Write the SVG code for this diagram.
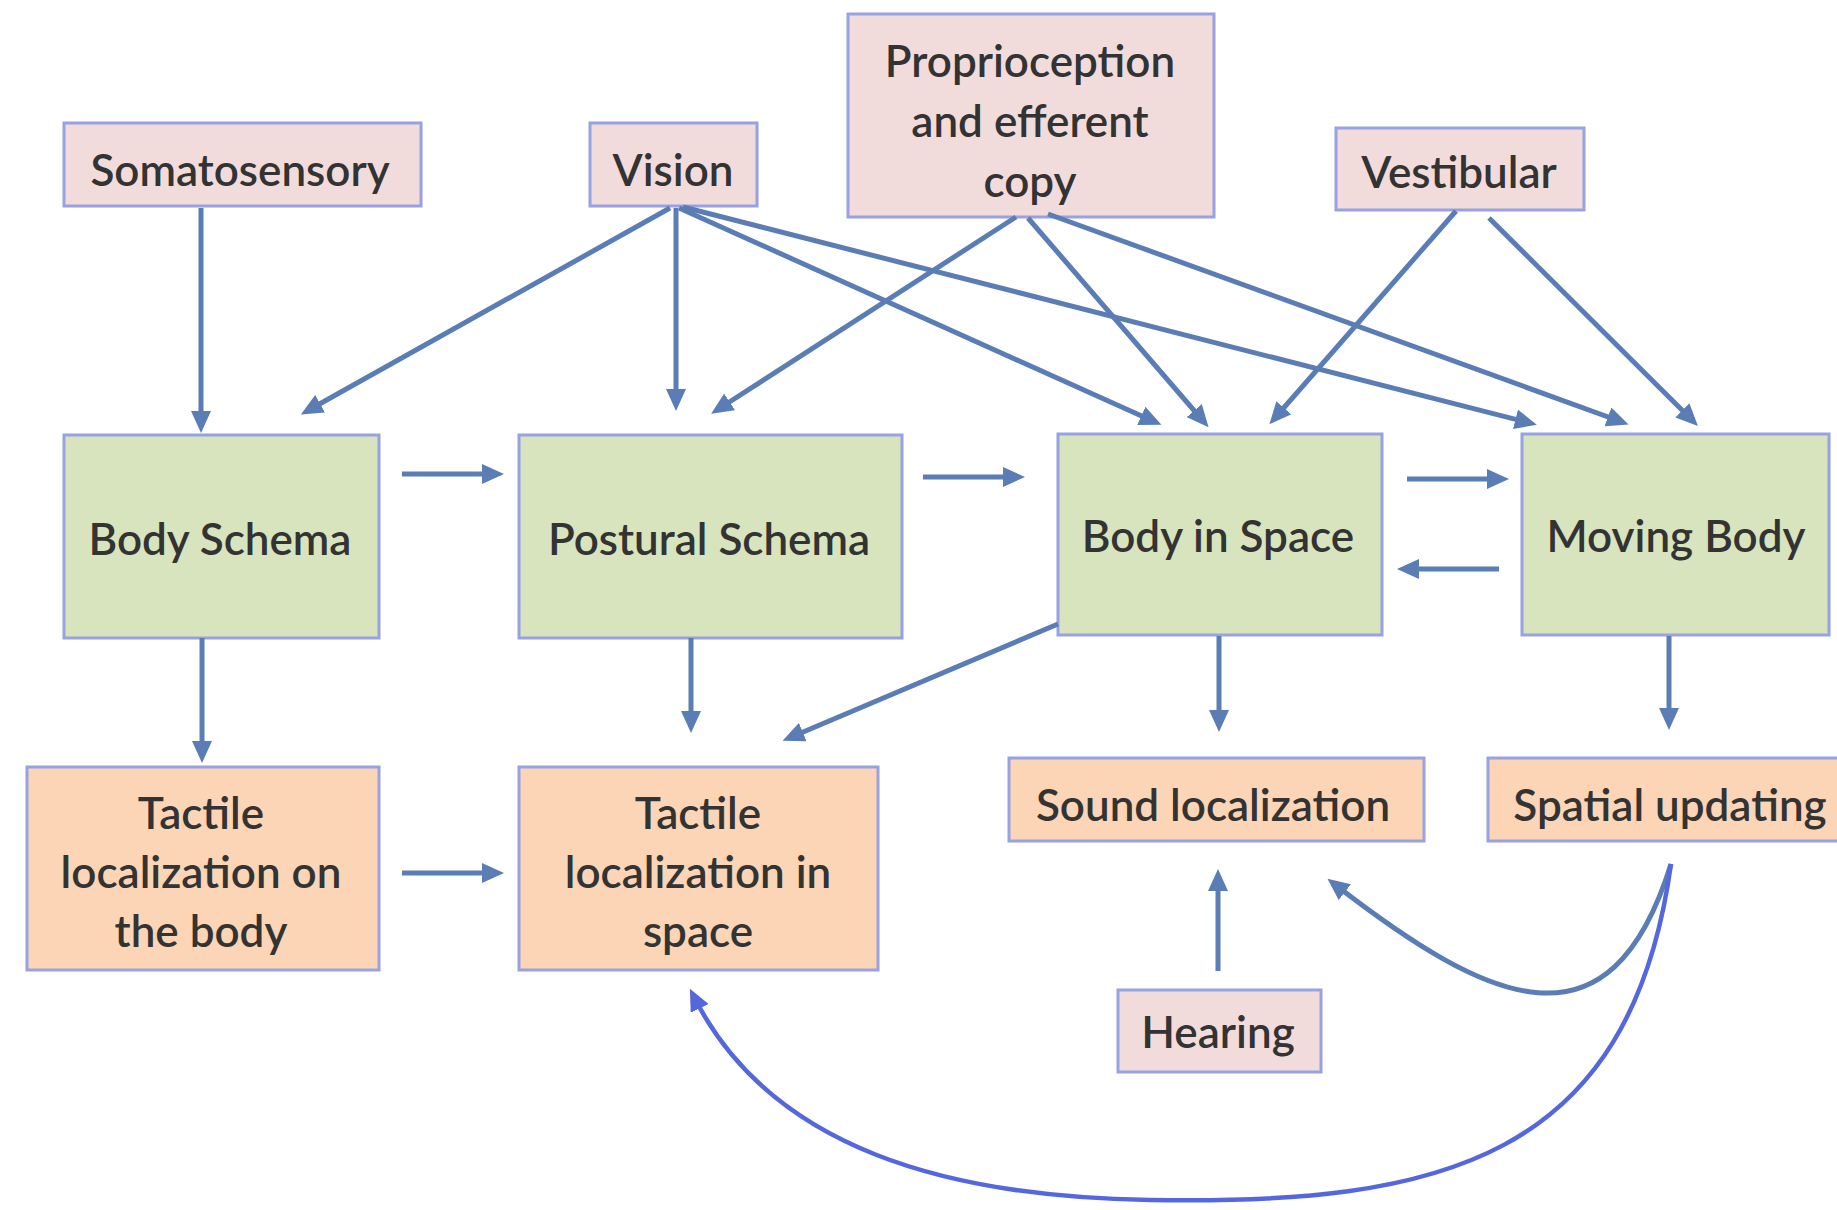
<svg xmlns="http://www.w3.org/2000/svg" width="1837" height="1210" viewBox="0 0 1837 1210">
  <style>
    .box { stroke: #98a2e2; stroke-width: 3; }
    .sense { fill: #f2dcdb; }
    .body { fill: #d7e4bd; }
    .task { fill: #fbd5b5; }
    .label { font-family: Lato, "Open Sans", "Liberation Sans", sans-serif; font-size: 44px; font-weight: 600; fill: #333333; text-anchor: middle; }
    .conn { fill: none; stroke: #5a7db6; stroke-width: 5; marker-end: url(#head); }
    .loop { fill: none; stroke: #5567dd; stroke-width: 4.5; marker-end: url(#headBright); }
  </style>
  <defs>
    <marker id="head" viewBox="0 0 22 20" refX="15" refY="10" markerWidth="22" markerHeight="20" markerUnits="userSpaceOnUse" orient="auto">
      <path d="M0,0 L22,10 L0,20 z" fill="#5a7db6"/>
    </marker>
    <marker id="headBright" viewBox="0 0 22 20" refX="15" refY="10" markerWidth="22" markerHeight="20" markerUnits="userSpaceOnUse" orient="auto">
      <path d="M0,0 L22,10 L0,20 z" fill="#5567dd"/>
    </marker>
  </defs>
  <rect width="1837" height="1210" fill="#ffffff"/>

  <!-- sensory inputs -->
  <g id="somatosensory">
    <rect class="box sense" x="64" y="123" width="357" height="83"/>
    <text class="label" x="240" y="186">Somatosensory</text>
  </g>
  <g id="vision">
    <rect class="box sense" x="590" y="123" width="167" height="83"/>
    <text class="label" x="673" y="186">Vision</text>
  </g>
  <g id="proprioception">
    <rect class="box sense" x="848" y="14" width="366" height="203"/>
    <text class="label" x="1030" y="77">Proprioception</text>
    <text class="label" x="1030" y="137">and efferent</text>
    <text class="label" x="1030" y="197">copy</text>
  </g>
  <g id="vestibular">
    <rect class="box sense" x="1336" y="128" width="248" height="82"/>
    <text class="label" x="1459" y="188">Vestibular</text>
  </g>
  <g id="hearing">
    <rect class="box sense" x="1118" y="990" width="203" height="82"/>
    <text class="label" x="1218" y="1048">Hearing</text>
  </g>

  <!-- body representations -->
  <g id="body-schema">
    <rect class="box body" x="64" y="435" width="315" height="203"/>
    <text class="label" x="220" y="555">Body Schema</text>
  </g>
  <g id="postural-schema">
    <rect class="box body" x="519" y="435" width="383" height="203"/>
    <text class="label" x="709" y="555">Postural Schema</text>
  </g>
  <g id="body-in-space">
    <rect class="box body" x="1058" y="434" width="324" height="201"/>
    <text class="label" x="1218" y="552">Body in Space</text>
  </g>
  <g id="moving-body">
    <rect class="box body" x="1522" y="434" width="307" height="201"/>
    <text class="label" x="1676" y="552">Moving Body</text>
  </g>

  <!-- spatial tasks -->
  <g id="tactile-body">
    <rect class="box task" x="27" y="767" width="352" height="203"/>
    <text class="label" x="201" y="829">Tactile</text>
    <text class="label" x="201" y="888">localization on</text>
    <text class="label" x="201" y="947">the body</text>
  </g>
  <g id="tactile-space">
    <rect class="box task" x="519" y="767" width="359" height="203"/>
    <text class="label" x="698" y="829">Tactile</text>
    <text class="label" x="698" y="888">localization in</text>
    <text class="label" x="698" y="947">space</text>
  </g>
  <g id="sound-localization">
    <rect class="box task" x="1009" y="758" width="415" height="83"/>
    <text class="label" x="1213" y="821">Sound localization</text>
  </g>
  <g id="spatial-updating">
    <rect class="box task" x="1488" y="758" width="360" height="83"/>
    <text class="label" x="1670" y="821">Spatial updating</text>
  </g>

  <g id="connectors">
    <!-- inputs to body representations -->
    <path class="conn" d="M201,208 L201,426"/>
    <path class="conn" d="M670,208 L307,411"/>
    <path class="conn" d="M676,208 L676,404"/>
    <path class="conn" d="M679,208 L1155,422"/>
    <path class="conn" d="M683,207 L1530,423"/>
    <path class="conn" d="M1016,217 L717,410"/>
    <path class="conn" d="M1028,218 L1204,422"/>
    <path class="conn" d="M1048,214 L1622,422"/>
    <path class="conn" d="M1456,211 L1274,419"/>
    <path class="conn" d="M1489,218 L1693,421"/>
    <!-- chain between representations -->
    <path class="conn" d="M402,474 L497,474"/>
    <path class="conn" d="M923,477 L1018,477"/>
    <path class="conn" d="M1407,479 L1502,479"/>
    <path class="conn" d="M1499,569 L1404,569"/>
    <!-- representations to tasks -->
    <path class="conn" d="M202,638 L202,756"/>
    <path class="conn" d="M691,638 L691,726"/>
    <path class="conn" d="M1058,624 L789,738"/>
    <path class="conn" d="M1219,636 L1219,725"/>
    <path class="conn" d="M1669,636 L1669,723"/>
    <path class="conn" d="M402,873 L497,873"/>
    <path class="conn" d="M1218,971 L1218,876"/>
    <!-- feedback from spatial updating -->
    <path class="conn" d="M1671,864 C1610,1060 1490,1005 1333,883"/>
    <path class="loop" d="M1671,864 C1630,1160 1440,1205 1150,1200 C950,1197 770,1150 693,995"/>
  </g>
</svg>
